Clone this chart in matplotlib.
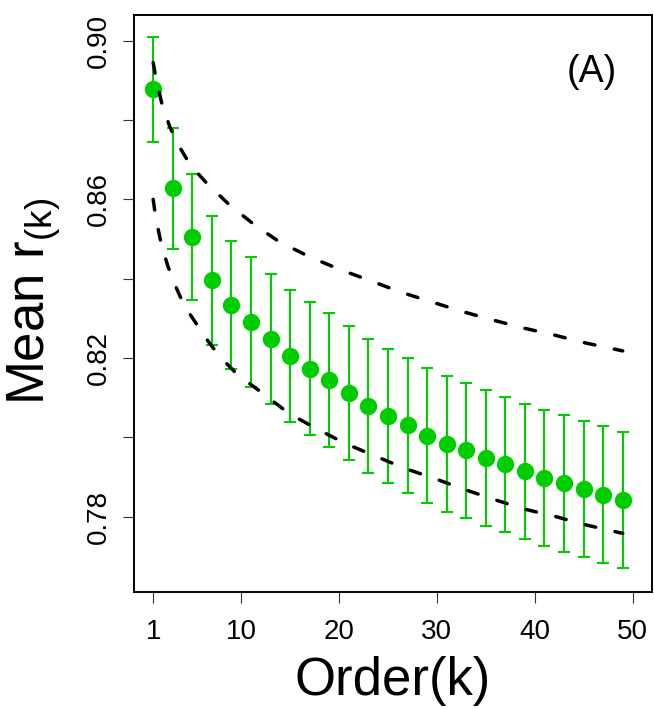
import matplotlib
matplotlib.use("Agg")
import matplotlib.pyplot as plt

plt.rcParams['font.family'] = ['Liberation Sans', 'DejaVu Sans']
plt.rcParams['mathtext.fontset'] = 'custom'
plt.rcParams['mathtext.rm'] = 'Liberation Sans'

# mean correlation at each order k, with half-width of the error bar
order = [1, 3, 5, 7, 9, 11, 13, 15, 17, 19, 21, 23, 25,
         27, 29, 31, 33, 35, 37, 39, 41, 43, 45, 47, 49]
mean_r = [0.8877, 0.8628, 0.8505, 0.8396, 0.8334, 0.8291, 0.8248, 0.8206,
          0.8173, 0.8145, 0.8112, 0.8078, 0.8054, 0.8030, 0.8004, 0.7984,
          0.7968, 0.7948, 0.7932, 0.7915, 0.7897, 0.7884, 0.7870, 0.7856,
          0.7842]
err_r = [0.0132, 0.0153, 0.0158, 0.0162, 0.0162, 0.0163, 0.0164, 0.0166,
         0.0168, 0.0168, 0.0168, 0.0169, 0.0169, 0.0170, 0.0170, 0.0171,
         0.0170, 0.0171, 0.0170, 0.0170, 0.0171, 0.0172, 0.0172, 0.0172,
         0.0172]

# dashed reference curves
upper_k = [1, 1.3, 1.9, 2.7, 3.5, 4.4, 5.4, 6.5, 8.8, 11.4, 13.9, 17, 20.1,
           23.1, 26.2, 29.4, 32.5, 35.7, 38.8, 42, 45.2, 49]
upper_r = [0.8945, 0.8903, 0.8840, 0.8783, 0.8740, 0.8703, 0.8670, 0.8640,
           0.8586, 0.8535, 0.8493, 0.8455, 0.8423, 0.8396, 0.8367, 0.8342,
           0.8318, 0.8296, 0.8276, 0.8258, 0.8238, 0.8218]
lower_k = [1, 1.25, 1.7, 2.0, 2.5, 3.0, 3.7, 4.5, 5.4, 6.3, 7.3, 8.4, 9.5,
           12.2, 14.9, 17.7, 20.6, 23.5, 26.7, 29.8, 32.8, 35.9, 39, 42.2,
           45.3, 49]
lower_r = [0.8600, 0.8556, 0.8502, 0.8472, 0.8432, 0.8398, 0.8358, 0.8320,
           0.8287, 0.8253, 0.8220, 0.8189, 0.8161, 0.8111, 0.8060, 0.8022,
           0.7985, 0.7955, 0.7922, 0.7896, 0.7869, 0.7843, 0.7819, 0.7800,
           0.7779, 0.7758]

xticks = [1, 10, 20, 30, 40, 50]
yticks = [0.78, 0.80, 0.82, 0.84, 0.86, 0.88, 0.90]
ytick_labels = ['0.78', '', '0.82', '', '0.86', '', '0.90']

W, H = 654, 709
fig = plt.figure(figsize=(W / 100, H / 100), dpi=100)
ax = fig.add_axes([134 / W, (H - 591.7) / H, (651.7 - 134) / W, (591.7 - 15.3) / H])

green = '#00CD00'
ax.errorbar(order, mean_r, yerr=err_r, fmt='o', color=green, ms=11.5,
            elinewidth=1.5, capsize=4.3, capthick=1.5, zorder=2)

for xs, ys in [(upper_k, upper_r), (lower_k, lower_r)]:
    ax.plot(xs, ys, color='black', lw=2.5, ls=(0, (3.1, 5.7)),
            dash_capstyle='round', zorder=3)

ax.set_xlim(-0.96, 51.96)
ax.set_ylim(0.7611, 0.9064)
ax.set_xticks(xticks)
ax.set_yticks(yticks)
ax.set_yticklabels(ytick_labels, rotation=90, va='center')
ax.tick_params(axis='both', length=8, width=0.8, labelsize=20, color='#333333')
ax.tick_params(axis='x', pad=12)
ax.tick_params(axis='y', pad=8)
for s in ax.spines.values():
    s.set_linewidth(1.4)

ax.text((592 - 134) / (651.7 - 134), 1 - (72.5 - 15.3) / (591.7 - 15.3),
        '(A)', transform=ax.transAxes, fontsize=27, ha='center', va='center')

fig.text(393 / W, (H - 695) / H, 'Order(k)', fontsize=38, ha='center', va='baseline')
fig.text(45 / W, 1 - 301.7 / H, r'Mean r$_{\mathregular{(k)}}$', fontsize=38,
         rotation=90, rotation_mode='anchor', ha='center', va='baseline')

fig.savefig('out.png', dpi=100)
